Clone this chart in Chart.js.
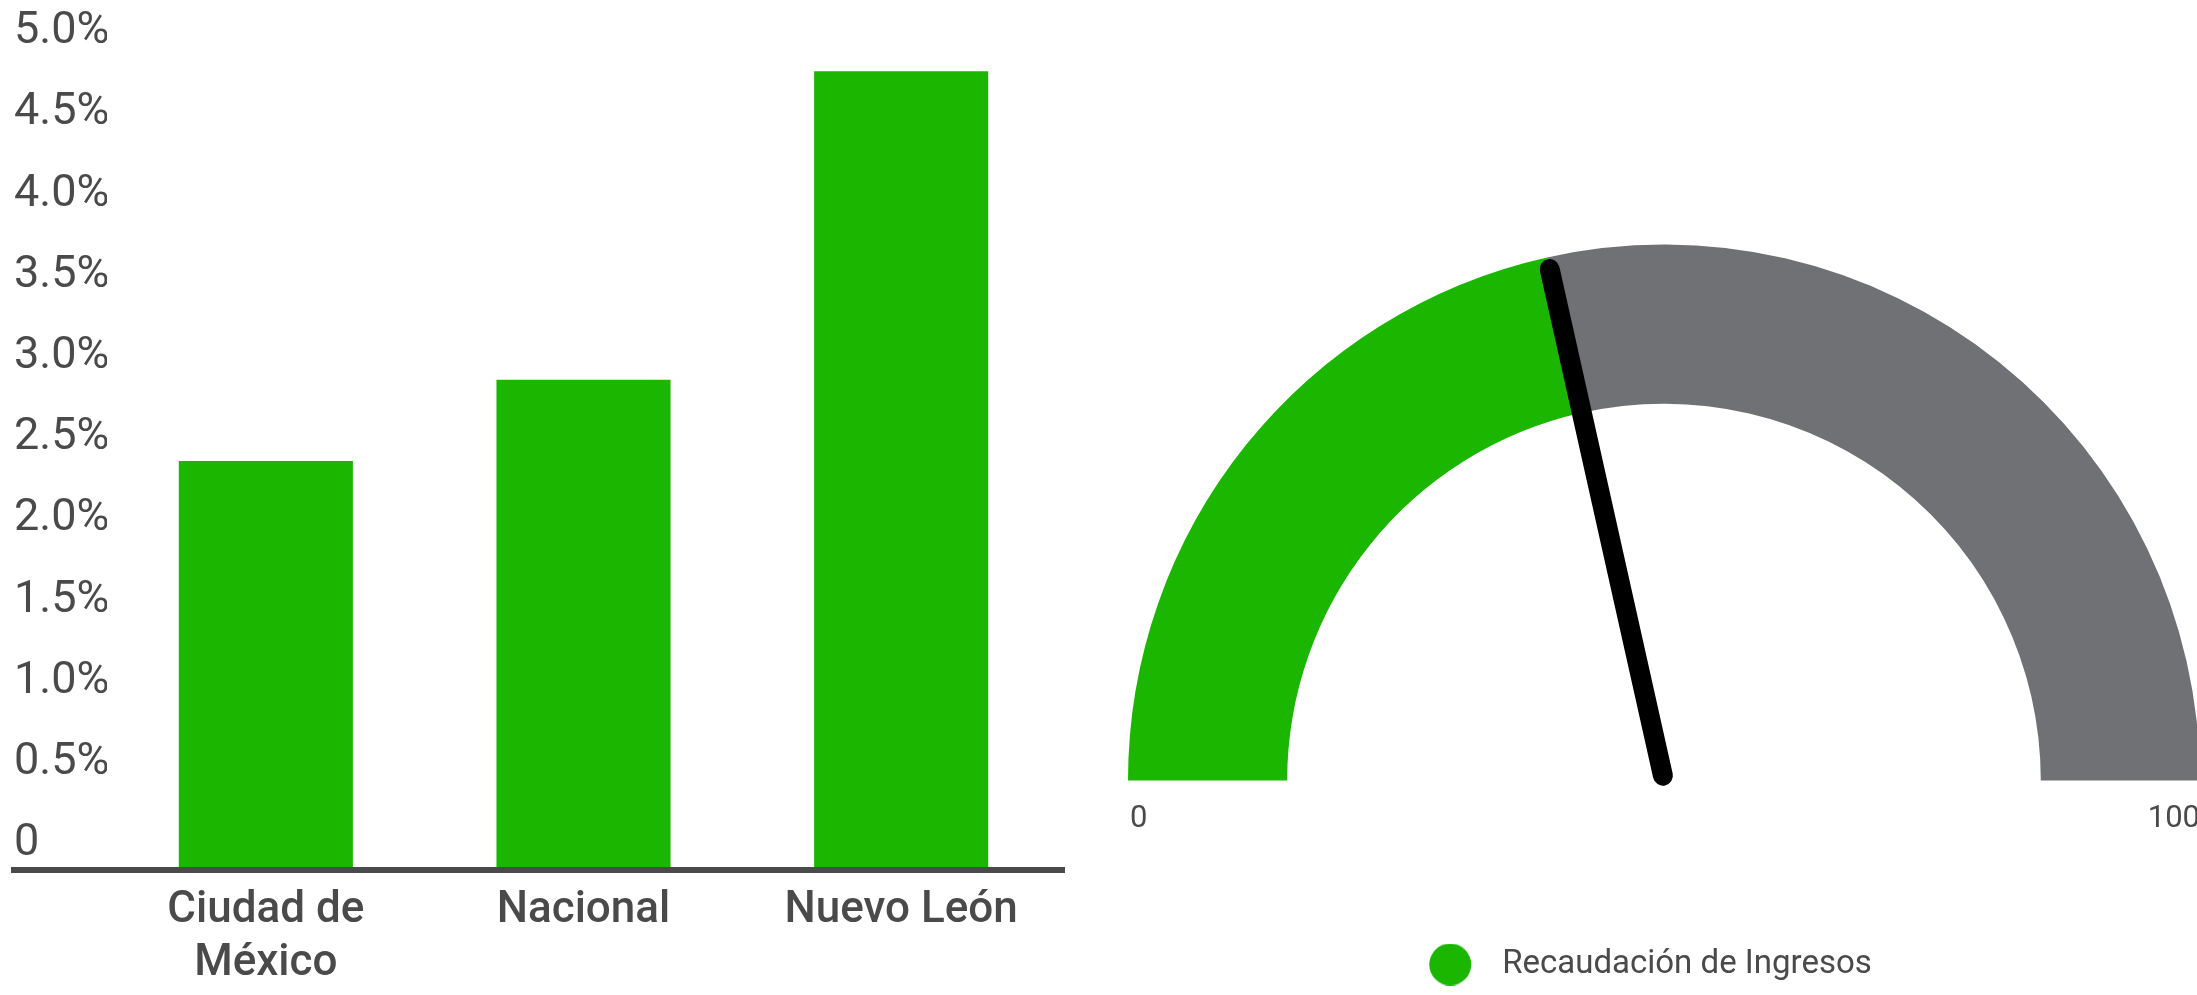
<!DOCTYPE html>
<html>
<head>
<meta charset="utf-8">
<script src="https://cdn.jsdelivr.net/npm/chart.js@4.4.1/dist/chart.umd.min.js"></script>
<style>
  html, body { margin: 0; padding: 0; overflow: hidden; background: #ffffff; width: 2197px; height: 995px; }
  #barCanvas { position: absolute; left: 0; top: 0; }
  #gaugeCanvas { position: absolute; left: 1090px; top: 0; }
</style>
</head>
<body>
<canvas id="barCanvas" width="1100" height="995"></canvas>
<canvas id="gaugeCanvas" width="1148" height="995"></canvas>
<script>
// ---------- data ----------
const categories = [["Ciudad de", "México"], "Nacional", "Nuevo León"];
const barValues = [2.5, 3.0, 4.9];
const yTickValues = [0, 0.5, 1, 1.5, 2, 2.5, 3, 3.5, 4, 4.5, 5];
const yTickLabels = ["0", "0.5%", "1.0%", "1.5%", "2.0%", "2.5%", "3.0%", "3.5%", "4.0%", "4.5%", "5.0%"];

const gaugeLabels = ["Recaudación de Ingresos", "Resto"];
const gaugeValue = 43;
const gaugeMax = 100;
const gaugeScaleLabels = ["0", "100"];

// ---------- styles ----------
const GREEN = "#1bb700";
const GREY = "#707175";
const TEXT = "#4a4a4a";

// ---------- bar chart ----------
const baselinePlugin = {
  id: "baseline",
  afterDraw(chart) {
    const { ctx, chartArea, scales } = chart;
    const y0 = scales.y.getPixelForValue(0);
    ctx.save();
    ctx.strokeStyle = TEXT;
    ctx.lineWidth = 6;
    ctx.beginPath();
    ctx.moveTo(scales.y.left - 3, y0 + 3);
    ctx.lineTo(chartArea.right + 5, y0 + 3);
    ctx.stroke();
    ctx.restore();
  }
};

new Chart(document.getElementById("barCanvas"), {
  type: "bar",
  data: {
    labels: categories,
    datasets: [{
      data: barValues,
      backgroundColor: GREEN,
      borderWidth: 0,
      categoryPercentage: 1,
      barPercentage: 0.548
    }]
  },
  options: {
    responsive: false,
    animation: false,
    layout: { padding: { top: 55, left: 14, right: 40, bottom: 0 } },
    plugins: { legend: { display: false }, tooltip: { enabled: false } },
    scales: {
      x: {
        grid: { display: false, drawTicks: false },
        border: { display: false },
        ticks: {
          color: TEXT,
          padding: 18,
          maxRotation: 0,
          font: { family: "Roboto", size: 44, weight: "500", lineHeight: 1.2 }
        },
        afterFit(scale) { scale.height = 128; }
      },
      y: {
        min: 0, max: 5,
        grid: { display: false, drawTicks: false },
        border: { display: false },
        afterBuildTicks(scale) { scale.ticks = yTickValues.map(v => ({ value: v })); },
        ticks: {
          color: TEXT,
          crossAlign: "far",
          labelOffset: -23,
          padding: 0,
          font: { family: "Roboto", size: 45 },
          callback: (v, i) => yTickLabels[i]
        },
        afterFit(scale) { scale.width = 93; }
      }
    }
  },
  plugins: [baselinePlugin]
});

// ---------- gauge ----------
const dot = document.createElement("canvas");
dot.width = 84; dot.height = 42;
(function () {
  const c = dot.getContext("2d");
  c.fillStyle = GREEN;
  c.beginPath();
  c.arc(21.25, 21, 21, 0, Math.PI * 2);
  c.fill();
})();

const needlePlugin = {
  id: "needle",
  afterDatasetsDraw(chart) {
    const arc = chart.getDatasetMeta(0).data[0];
    const { x, y, outerRadius, endAngle } = arc.getProps(["x", "y", "outerRadius", "endAngle"], true);
    const ctx = chart.ctx;
    ctx.save();
    ctx.strokeStyle = "#000000";
    ctx.lineWidth = 20;
    ctx.lineCap = "round";
    ctx.beginPath();
    ctx.moveTo(x + Math.cos(endAngle) * 5, y + Math.sin(endAngle) * 5);
    ctx.lineTo(x + Math.cos(endAngle) * (outerRadius - 12), y + Math.sin(endAngle) * (outerRadius - 12));
    ctx.stroke();

    ctx.fillStyle = TEXT;
    ctx.font = "31px Roboto";
    ctx.textBaseline = "middle";
    ctx.textAlign = "left";
    ctx.fillText(gaugeScaleLabels[0], x - outerRadius + 2, y + 39);
    ctx.textAlign = "right";
    ctx.fillText(gaugeScaleLabels[1], x + outerRadius, y + 39);
    ctx.restore();
  }
};

new Chart(document.getElementById("gaugeCanvas"), {
  type: "doughnut",
  data: {
    labels: gaugeLabels,
    datasets: [{
      data: [gaugeValue, gaugeMax - gaugeValue],
      backgroundColor: [GREEN, GREY],
      borderWidth: 0
    }]
  },
  options: {
    responsive: false,
    animation: false,
    rotation: -90,
    circumference: 180,
    cutout: "70.3%",
    layout: { padding: { top: 87, left: 38, right: 38, bottom: 4 } },
    plugins: {
      tooltip: { enabled: false },
      legend: {
        position: "bottom",
        labels: {
          usePointStyle: true,
          pointStyle: dot,
          pointStyleWidth: 29.5,
          boxHeight: 30,
          padding: 10,
          color: TEXT,
          font: { family: "Roboto", size: 33 },
          filter: item => item.index === 0
        }
      }
    }
  },
  plugins: [needlePlugin]
});
</script>
</body>
</html>
